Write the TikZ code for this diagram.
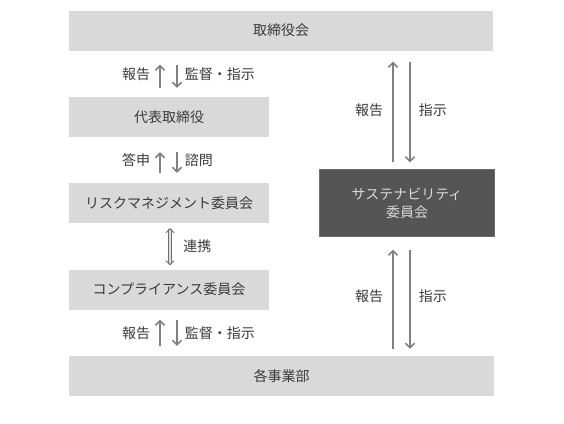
\documentclass[tikz,border=0pt]{standalone}
\usepackage{fontspec}
\setmainfont{Noto Sans CJK JP}
\usepackage{xcolor}
\usetikzlibrary{
    arrows.meta,
    calc,
    positioning
}
\definecolor{boxgray}{HTML}{D9D9D9}
\definecolor{darkbox}{HTML}{555555}
\definecolor{txtgray}{HTML}{3A3A3A}
\definecolor{arrgray}{HTML}{808080}

\begin{document}
\begin{tikzpicture}[x=1bp, y=-1bp,
        every node/.style={font=\fontsize{14bp}{18bp}\selectfont, text=txtgray},
        box/.style={fill=boxgray, minimum height=40bp},
        darkbox/.style={fill=darkbox, draw=darkbox!85!white, text=white!85!black, align=center},
        rel/.style={draw=arrgray, line width=1.6bp, -{Straight Barb[length=4.5bp,width=9bp]}},
        lbl/.style={inner sep=1bp}
    ]
    \useasboundingbox (0, 0) rectangle (564, 423);

    \node[box, minimum width=424bp] (board) at (281, 30.5) {取締役会};
    \node[box, minimum width=200bp] (ceo) at (169, 117) {代表取締役};
    \node[box, minimum width=200bp] (risk) at (169, 203) {リスクマネジメント委員会};
    \node[box, minimum width=200bp] (comp) at (169, 289.5) {コンプライアンス委員会};
    \node[box, minimum width=425bp] (div) at (281.5, 376) {各事業部};
    \node[darkbox, minimum width=175bp, minimum height=67bp] (sust) at (407, 203) {サステナビリティ\\委員会};

    % left column
    \draw
    ([xshift=-9bp]ceo.north) edge[rel, shorten <=9bp, shorten >=14bp] node[lbl, left=8bp]{報告} ([xshift=-9bp]ceo.north |- board.south)
    ([xshift=8bp]ceo.north |- board.south) edge[rel, shorten <=14bp, shorten >=9bp] node[lbl, right=6bp]{監督・指示} ([xshift=8bp]ceo.north);

    \draw
    ([xshift=-9bp]risk.north) edge[rel, shorten <=10bp, shorten >=15bp] node[lbl, left=8bp]{答申} ([xshift=-9bp]risk.north |- ceo.south)
    ([xshift=8bp]risk.north |- ceo.south) edge[rel, shorten <=15bp, shorten >=10bp] node[lbl, right=6bp]{諮問} ([xshift=8bp]risk.north);

    \draw
    ([xshift=1bp]risk.south) edge[draw=arrgray!85!black, double=white!88!black, double distance=1.4bp, line width=0.9bp,
        {Straight Barb[length=4bp,width=8bp]}-{Straight Barb[length=4bp,width=8bp]},
        shorten <=5bp, shorten >=4bp] node[lbl, right=12bp]{連携} ([xshift=1bp]comp.north);

    \draw
    ([xshift=-9bp]div.north -| comp.south) edge[rel, shorten <=10bp, shorten >=10bp] node[lbl, left=8bp]{報告} ([xshift=-9bp]comp.south)
    ([xshift=8bp]comp.south) edge[rel, shorten <=10bp, shorten >=10bp] node[lbl, right=6bp]{監督・指示} ([xshift=8bp]div.north -| comp.south);

    % right column
    \draw
    ([xshift=-14bp]sust.north) edge[rel, shorten <=7bp, shorten >=11bp] node[lbl, left=8bp]{報告} ([xshift=-14bp]sust.north |- board.south)
    ([xshift=3bp]sust.north |- board.south) edge[rel, shorten <=11bp, shorten >=7bp] node[lbl, right=7bp]{指示} ([xshift=3bp]sust.north);

    \draw
    ([xshift=-14bp]sust.south |- div.north) edge[rel, shorten <=7bp, shorten >=13bp] node[lbl, left=8bp]{報告} ([xshift=-14bp]sust.south)
    ([xshift=3bp]sust.south) edge[rel, shorten <=13bp, shorten >=7bp] node[lbl, right=7bp]{指示} ([xshift=3bp]sust.south |- div.north);
\end{tikzpicture}
\end{document}
